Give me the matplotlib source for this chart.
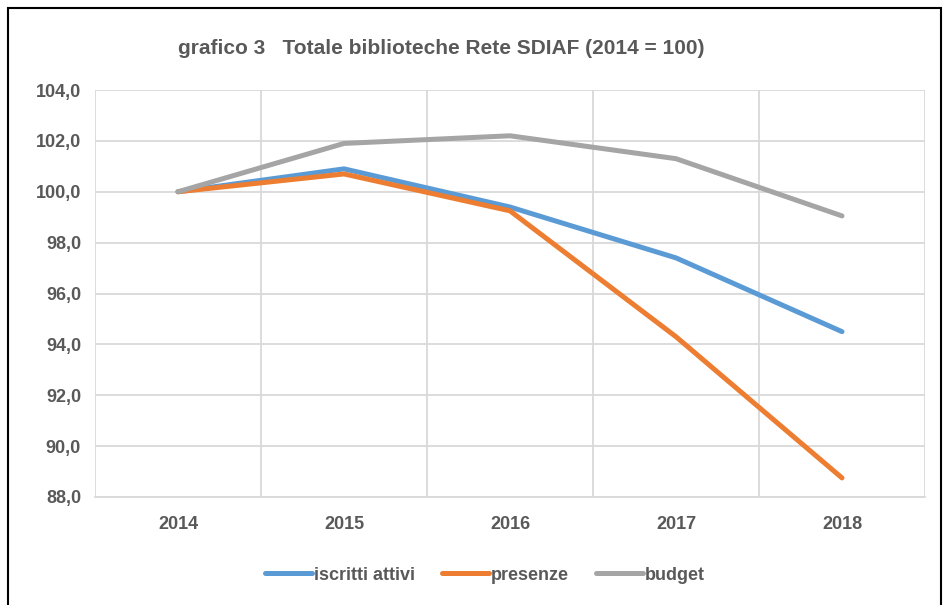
import matplotlib.pyplot as plt
from matplotlib.patches import Rectangle

years = ['2014', '2015', '2016', '2017', '2018']
iscritti = [100.0, 100.9, 99.4, 97.4, 94.5]
presenze = [100.0, 100.7, 99.25, 94.3, 88.75]
budget = [100.0, 101.9, 102.2, 101.3, 99.05]

plt.rcParams['font.family'] = ['Liberation Sans', 'DejaVu Sans']
GREY_TXT = '#595959'
GRID = '#D9D9D9'

W, H = 945, 605
fig = plt.figure(figsize=(W / 100, H / 100), dpi=100)
ax = fig.add_axes([95 / W, 1 - 497 / H, (925 - 95) / W, (497 - 90) / H])

x = range(len(years))
style = dict(lw=3.6, solid_capstyle='round', solid_joinstyle='round')
ax.plot(x, iscritti, color='#5B9BD5', label='iscritti attivi', **style)
ax.plot(x, presenze, color='#ED7D31', label='presenze', **style)
ax.plot(x, budget, color='#A5A5A5', label='budget', **style)

ax.set_xlim(-0.5, 4.5)
ax.set_ylim(88, 104)
ax.set_yticks(range(88, 105, 2))
ax.set_yticklabels([f'{v},0' for v in range(88, 105, 2)])
ax.set_xticks(list(x))
ax.set_xticklabels(years)
ax.set_xticks([i + 0.5 for i in range(-1, 5)], minor=True)

ax.grid(axis='y', color=GRID, lw=1.3)
ax.grid(axis='x', which='minor', color=GRID, lw=1.3)
ax.set_axisbelow(True)
for s in ['top', 'right', 'left']:
    ax.spines[s].set_visible(False)
ax.spines['bottom'].set_color(GRID)
ax.spines['bottom'].set_linewidth(1.3)
ax.tick_params(which='both', length=0)
ax.tick_params(axis='y', pad=10)
ax.tick_params(axis='x', pad=14)
for lab in ax.get_xticklabels() + ax.get_yticklabels():
    lab.set_fontsize(13)
    lab.set_fontweight('bold')
    lab.set_color(GREY_TXT)

fig.text(441 / W, 1 - 48 / H, 'grafico 3   Totale biblioteche Rete SDIAF (2014 = 100)',
         ha='center', va='center', fontsize=15, fontweight='bold', color=GREY_TXT)

leg = fig.legend(loc='center', bbox_to_anchor=(485 / W, 1 - 575 / H), ncol=3, frameon=False,
                 handlelength=2.6, handletextpad=0.1, columnspacing=1.5,
                 prop={'size': 13, 'weight': 'bold'})
for t in leg.get_texts():
    t.set_color(GREY_TXT)

# cornice esterna
fig.patches.append(Rectangle((8 / W, -0.01), (941 - 8) / W, 1 - 8 / H + 0.01,
                             transform=fig.transFigure, fill=False, ec='black', lw=1.5))

fig.savefig('out.png', dpi=100)
